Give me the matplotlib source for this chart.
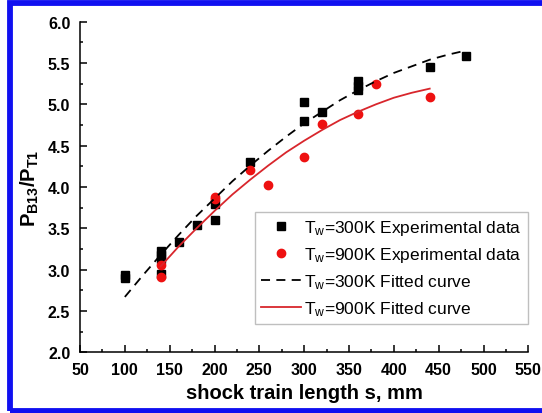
import matplotlib
matplotlib.use("Agg")
import matplotlib.pyplot as plt
from matplotlib.patches import Rectangle
from matplotlib.ticker import MultipleLocator

plt.rcParams['font.family'] = ['Liberation Sans', 'DejaVu Sans']
plt.rcParams['mathtext.default'] = 'regular'

# experimental points
s300 = [100, 100, 140, 140, 140, 140, 160, 180, 200, 200, 240, 300, 300, 320, 360, 360, 360, 440, 480]
p300 = [2.93, 2.90, 3.23, 3.18, 3.13, 2.95, 3.33, 3.54, 3.79, 3.60, 4.30, 5.03, 4.80, 4.91, 5.28, 5.22, 5.17, 5.45, 5.58]

s900 = [140, 140, 200, 200, 240, 260, 300, 320, 360, 380, 440]
p900 = [3.06, 2.91, 3.88, 3.85, 4.20, 4.02, 4.36, 4.76, 4.88, 5.25, 5.09]

# fitted curves
fit300_s = [100, 120, 140, 160, 180, 200, 220, 240, 260, 280, 300, 320, 340, 360, 380, 400, 420, 440, 460, 480]
fit300_p = [2.67, 2.93, 3.18, 3.42, 3.65, 3.86, 4.07, 4.26, 4.44, 4.61, 4.77, 4.91, 5.05, 5.17, 5.28, 5.38, 5.46, 5.54, 5.60, 5.65]

fit900_s = [140, 160, 180, 200, 220, 240, 260, 280, 300, 320, 340, 360, 380, 400, 420, 440]
fit900_p = [3.04, 3.28, 3.50, 3.71, 3.91, 4.09, 4.26, 4.42, 4.56, 4.69, 4.81, 4.91, 5.00, 5.08, 5.14, 5.19]

fig = plt.figure(figsize=(5.42, 4.14), dpi=100)
ax = fig.add_axes([0.1476, 0.1466, 0.8272, 0.7986])

ax.plot(s300, p300, 's', color='black', ms=5.8, label=r'T$_w$=300K Experimental data')
ax.plot(s900, p900, 'o', color='#ee1111', ms=6, label=r'T$_w$=900K Experimental data')
ax.plot(fit300_s, fit300_p, '--', color='black', lw=1.3, dashes=(5, 3.5), label=r'T$_w$=300K Fitted curve')
ax.plot(fit900_s, fit900_p, '-', color='#d8262c', lw=1.3, label=r'T$_w$=900K Fitted curve')

ax.set_xlim(50, 550)
ax.set_ylim(2.0, 6.0)
ax.xaxis.set_major_locator(MultipleLocator(50))
ax.xaxis.set_minor_locator(MultipleLocator(25))
ax.yaxis.set_major_locator(MultipleLocator(0.5))
ax.yaxis.set_minor_locator(MultipleLocator(0.25))
ax.yaxis.set_major_formatter(matplotlib.ticker.FormatStrFormatter('%.1f'))

for side in ['top', 'right']:
    ax.spines[side].set_visible(False)
for side in ['left', 'bottom']:
    ax.spines[side].set_linewidth(1.1)
ax.tick_params(which='major', direction='in', length=4.8, width=1.1, labelsize=11.5, pad=7)
ax.tick_params(which='minor', direction='in', length=2.4, width=1.1)
for lab in ax.get_xticklabels() + ax.get_yticklabels():
    lab.set_fontweight('bold')

ax.set_xlabel('shock train length s, mm', fontsize=14.5, fontweight='bold', labelpad=4)
ax.set_ylabel(r'P$_{B13}$/P$_{T1}$', fontsize=14.5, fontweight='bold', labelpad=5)

leg = ax.legend(loc='upper left', bbox_to_anchor=(0.39, 0.425), fontsize=12.5, frameon=True,
                fancybox=False, edgecolor='#b0b0b0', handlelength=2.3, handletextpad=0.2,
                labelspacing=0.48, borderpad=0.35, borderaxespad=0)
leg.get_frame().set_linewidth(1.0)

# blue frame around the figure
fig.patches.append(Rectangle((10 / 542, 2.5 / 414), 1.2, 408 / 414, transform=fig.transFigure,
                             fill=False, edgecolor='#1010f0', linewidth=4.2, figure=fig))

fig.savefig('out.png', dpi=100)
